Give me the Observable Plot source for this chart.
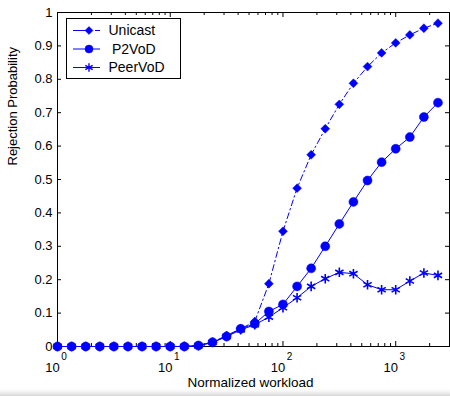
<!DOCTYPE html>
<html><head><meta charset="utf-8">
<script src="https://cdn.jsdelivr.net/npm/d3@7"></script>
<script src="https://cdn.jsdelivr.net/npm/@observablehq/plot@0.6"></script>
<style>body{margin:0;background:#fff} svg{display:block}</style>
</head><body><div id="chart"></div>
<script>
const workload = [1, 1.334, 1.778, 2.371, 3.162, 4.217, 5.623, 7.499, 10, 13.34, 17.78, 23.71, 31.62, 42.17, 56.23, 74.99, 100, 133.4, 177.8, 237.1, 316.2, 421.7, 562.3, 749.9, 1000, 1334, 1778, 2371];
const unicast = [0,0,0,0,0,0,0,0,0,0.001,0.003,0.013,0.033,0.053,0.075,0.188,0.345,0.474,0.574,0.652,0.725,0.788,0.838,0.879,0.909,0.933,0.953,0.968];
const p2vod   = [0,0,0,0,0,0,0,0,0,0,0.003,0.013,0.030,0.053,0.068,0.105,0.126,0.180,0.234,0.300,0.367,0.433,0.497,0.552,0.592,0.627,0.687,0.730];
const peervod = [0,0,0,0,0,0,0,0,0,0,0.002,0.012,0.030,0.050,0.065,0.088,0.116,0.146,0.180,0.203,0.222,0.218,0.185,0.170,0.170,0.196,0.220,0.213];
const seriesNames = ["Unicast", "P2VoD", "PeerVoD"];
const yTicks = [0,0.1,0.2,0.3,0.4,0.5,0.6,0.7,0.8,0.9,1];
const yTickLabels = ["0","0.1","0.2","0.3","0.4","0.5","0.6","0.7","0.8","0.9","1"];
const xDecades = [1, 10, 100, 1000];
const xExponents = ["0", "1", "2", "3"];
const xMinor = [2,3,4,5,6,7,8,9,20,30,40,50,60,70,80,90,200,300,400,500,600,700,800,900,2000];
const xLabel = "Normalized workload";
const yLabel = "Rejection Probability";

const W = 450, H = 396, ML = 57, MR = 1, MT = 12, MB = 50;
const xMax = 3000;
const blue = "#0000ff";
const font = "'Liberation Sans', Arial, sans-serif";

const rows = (vals, name) => vals.map((v, i) => ({x: workload[i], y: v, series: name}));
const dUni = rows(unicast, seriesNames[0]);
const dP2 = rows(p2vod, seriesNames[1]);
const dPeer = rows(peervod, seriesNames[2]);

// tick lengths converted to data units
const decadePx = (W - ML - MR) / Math.log10(xMax);
const xFac = (px) => Math.pow(10, px / decadePx);
const yLen = (px) => px / (H - MT - MB);

const plot = Plot.plot({
  width: W, height: H,
  marginLeft: ML, marginRight: MR, marginTop: MT, marginBottom: MB,
  x: {type: "log", domain: [1, xMax], axis: null},
  y: {domain: [0, 1], axis: null},
  style: {fontFamily: font, fontSize: "13px", background: "transparent"},
  marks: [
    Plot.frame({stroke: "black", strokeWidth: 1}),
    // y ticks (inside, left and right)
    Plot.ruleY(yTicks, {y: d => d, x1: 1, x2: xFac(4), stroke: "black"}),
    Plot.ruleY(yTicks, {y: d => d, x1: xMax / xFac(4), x2: xMax, stroke: "black"}),
    // x ticks bottom
    Plot.ruleX(xDecades, {x: d => d, y1: 0, y2: yLen(5), stroke: "black"}),
    Plot.ruleX(xMinor, {x: d => d, y1: 0, y2: yLen(3), stroke: "black"}),
    // x ticks top
    Plot.ruleX(xDecades, {x: d => d, y1: 1 - yLen(5), y2: 1, stroke: "black"}),
    Plot.ruleX(xMinor, {x: d => d, y1: 1 - yLen(3), y2: 1, stroke: "black"}),
    // series
    Plot.line(dUni, {x: "x", y: "y", stroke: blue, strokeWidth: 1, strokeDasharray: "6,3,1.5,3"}),
    Plot.dot(dUni, {x: "x", y: "y", symbol: "diamond2", r: 4, fill: blue, stroke: blue, strokeWidth: 0.5}),
    Plot.line(dP2, {x: "x", y: "y", stroke: blue, strokeWidth: 1}),
    Plot.dot(dP2, {x: "x", y: "y", symbol: "circle", r: 4.5, fill: blue, stroke: blue, strokeWidth: 0.5}),
    Plot.line(dPeer, {x: "x", y: "y", stroke: blue, strokeWidth: 1}),
    Plot.dot(dPeer, {x: "x", y: "y", symbol: "asterisk", r: 4.5, stroke: blue, strokeWidth: 1.6}),
    // y tick labels
    Plot.text(yTicks, {x: 1, y: d => d, text: (d, i) => yTickLabels[i], textAnchor: "end", dx: -5, fontSize: 13, fill: "black"}),
    // x tick labels (10 with superscript exponent)
    Plot.text(xDecades, {x: d => d, y: 0, text: () => "10", dx: -5, dy: 21, fontSize: 13, fill: "black"}),
    Plot.text(xDecades, {x: d => d, y: 0, text: (d, i) => xExponents[i], dx: 6.5, dy: 10, fontSize: 10, fill: "black"}),
    // axis labels
    Plot.text([xLabel], {frameAnchor: "bottom", text: d => d, dx: -3, dy: 40, fontSize: 13.5, fill: "black"}),
    Plot.text([yLabel], {frameAnchor: "left", text: d => d, dx: -45, dy: -14, rotate: -90, fontSize: 13, fill: "black"})
  ]
});

const svg = d3.select(plot);

// faint grey shading along the bottom edge
const defs = svg.append("defs");
const grad = defs.append("linearGradient").attr("id", "bottomShade").attr("x1", 0).attr("y1", 0).attr("x2", 0).attr("y2", 1);
grad.append("stop").attr("offset", "0%").attr("stop-color", "#ffffff").attr("stop-opacity", 0);
grad.append("stop").attr("offset", "100%").attr("stop-color", "#d4d4d4").attr("stop-opacity", 1);
svg.append("rect").attr("x", 0).attr("y", 387).attr("width", W).attr("height", 9).attr("fill", "url(#bottomShade)");

// legend box
const lg = svg.append("g").attr("font-family", font).attr("font-size", 14).attr("text-anchor", "start");
lg.append("rect").attr("x", 66.5).attr("y", 18.5).attr("width", 114).attr("height", 60)
  .attr("fill", "white").attr("stroke", "black").attr("stroke-width", 1);
const ly = [30.5, 49, 67.5];
const tx = [108.5, 112, 108.5];
const sym = [d3.symbolDiamond2, d3.symbolCircle, d3.symbolAsterisk];
const rr = [3.6, 4, 4];
seriesNames.forEach((name, i) => {
  const l = lg.append("line").attr("x1", 73).attr("x2", 100).attr("y1", ly[i]).attr("y2", ly[i])
    .attr("stroke", blue).attr("stroke-width", 1);
  if (i === 0) l.attr("stroke-dasharray", "19,3,5,3");
  const p = lg.append("path").attr("d", d3.symbol(sym[i], rr[i] * rr[i] * Math.PI)())
    .attr("transform", `translate(89,${ly[i]})`);
  if (i === 2) p.attr("fill", "none").attr("stroke", blue).attr("stroke-width", 1.4);
  else p.attr("fill", blue).attr("stroke", blue).attr("stroke-width", 0.5);
  lg.append("text").attr("x", tx[i]).attr("y", ly[i]).attr("dy", "0.35em").attr("fill", "black").attr("text-anchor", "start").text(name);
});

document.getElementById("chart").appendChild(plot);
</script>
</body></html>
